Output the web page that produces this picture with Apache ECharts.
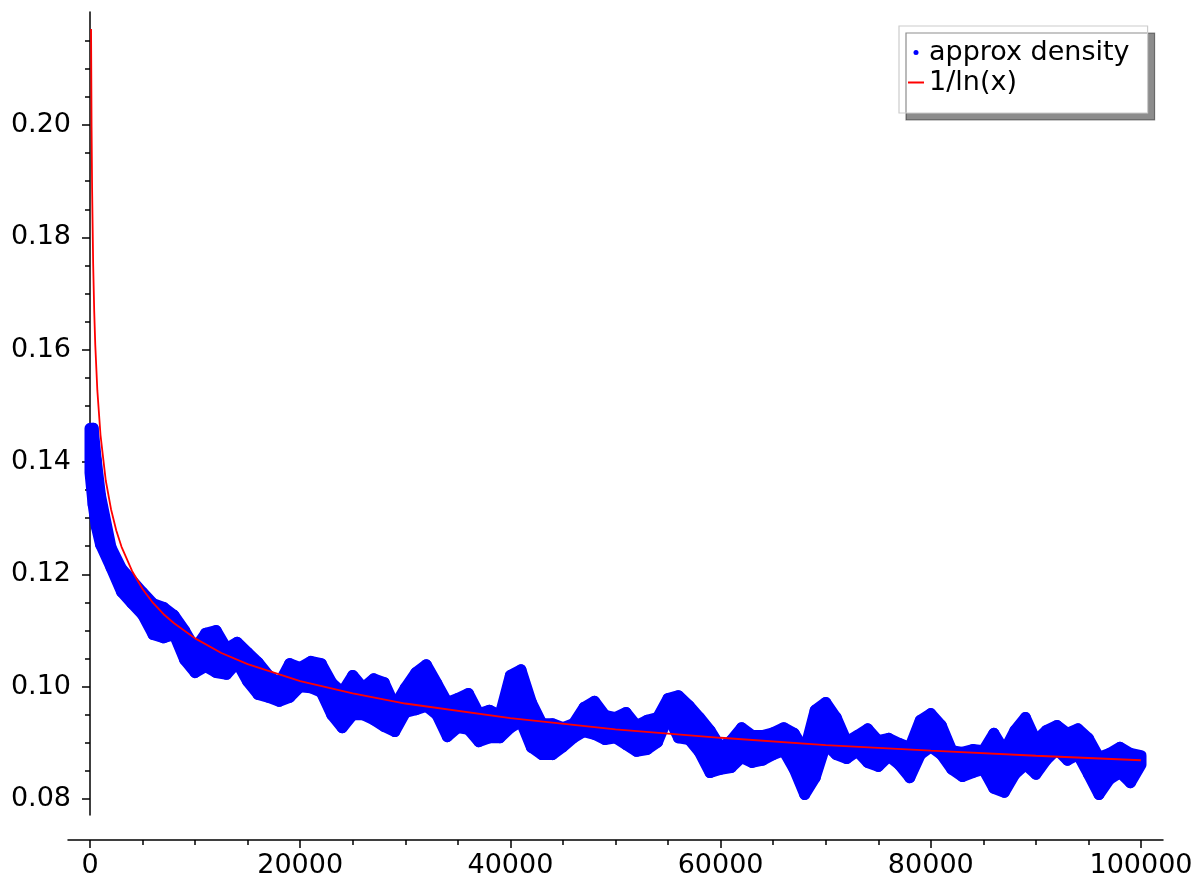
<!DOCTYPE html>
<html>
<head>
<meta charset="utf-8">
<script src="https://cdn.jsdelivr.net/npm/echarts@6/dist/echarts.min.js"></script>
<style>
  html, body { margin: 0; padding: 0; background: #fff; }
  #chart { width: 1194px; height: 883px; }
</style>
</head>
<body>
<div id="chart"></div>
<script>
// ---- data ----
const densityX = [0,300,600,1000,2000,3000,4000,5000,6000,7000,8000,9000,10000,
  11000,12000,13000,14000,15000,16000,17000,18000,19000,20000,
  21000,22000,23000,24000,25000,26000,27000,28000,29000,30000,
  31000,32000,33000,34000,35000,36000,37000,38000,39000,40000,
  41000,42000,43000,44000,45000,46000,47000,48000,49000,50000,
  51000,52000,53000,54000,55000,56000,57000,58000,59000,60000,
  61000,62000,63000,64000,65000,66000,67000,68000,69000,70000,
  71000,72000,73000,74000,75000,76000,77000,78000,79000,80000,
  81000,82000,83000,84000,85000,86000,87000,88000,89000,90000,
  91000,92000,93000,94000,95000,96000,97000,98000,99000,100000];
// upper edge of the "approx density" band
const densityHigh = [0.1460,0.1460,0.1403,0.1340,
  0.1248,0.1210,0.1189,0.1168,0.1148,0.1141,0.1127,0.1100,0.1068,
  0.1095,0.1100,0.1068,0.1079,0.1061,0.1043,0.1020,0.1006,0.1041,0.1034,
  0.1045,0.1041,0.1007,0.0990,0.1020,0.0998,0.1014,0.1007,0.0966,0.0998,
  0.1025,0.1039,0.1006,0.0972,0.0979,0.0988,0.0952,0.0958,0.0949,0.1020,
  0.1030,0.0972,0.0934,0.0934,0.0927,0.0934,0.0963,0.0974,0.0949,0.0945,
  0.0954,0.0931,0.0940,0.0945,0.0979,0.0984,0.0966,0.0945,0.0922,0.0892,
  0.0904,0.0927,0.0913,0.0913,0.0918,0.0927,0.0917,0.0886,0.0958,0.0972,
  0.0945,0.0902,0.0913,0.0925,0.0904,0.0908,0.0899,0.0892,0.0940,0.0952,
  0.0931,0.0886,0.0883,0.0888,0.0886,0.0917,0.0886,0.0922,0.0945,0.0904,
  0.0922,0.0931,0.0917,0.0925,0.0908,0.0874,0.0881,0.0892,0.0881,0.0877];
// lower edge of the "approx density" band
const densityLow = [0.1381,0.1324,0.1285,0.1253,
  0.1212,0.1169,0.1148,0.1128,0.1093,0.1087,0.1093,0.1048,0.1025,
  0.1036,0.1025,0.1022,0.1043,0.1009,0.0986,0.0981,0.0974,0.0981,0.1000,
  0.0998,0.0990,0.0950,0.0927,0.0950,0.0950,0.0941,0.0929,0.0920,0.0954,
  0.0959,0.0965,0.0950,0.0911,0.0927,0.0924,0.0902,0.0909,0.0909,0.0927,
  0.0938,0.0892,0.0879,0.0879,0.0893,0.0909,0.0920,0.0915,0.0906,0.0909,
  0.0897,0.0885,0.0888,0.0901,0.0947,0.0909,0.0906,0.0883,0.0847,0.0853,
  0.0856,0.0874,0.0865,0.0869,0.0879,0.0886,0.0853,0.0808,0.0838,0.0897,
  0.0879,0.0872,0.0885,0.0865,0.0858,0.0876,0.0861,0.0838,0.0879,0.0893,
  0.0879,0.0853,0.0840,0.0847,0.0853,0.0819,0.0812,0.0844,0.0861,0.0844,
  0.0870,0.0888,0.0869,0.0879,0.0844,0.0808,0.0835,0.0847,0.0829,0.0861];

// 1/ln(x) curve points
const curveX = [100,150,200,300,400,500,700,1000,1500,2000,2500,3000,4000,5000,6000,7000,8000,
  10000,12500,15000,20000,25000,30000,40000,50000,60000,70000,80000,90000,100000];
const curveY = [0.2171,0.1996,0.1887,0.1753,0.1669,0.1609,0.1527,0.1448,0.1367,0.1316,0.1278,0.1249,
  0.1206,0.1174,0.1149,0.1129,0.1113,0.1086,0.1060,0.1040,0.1010,0.0988,0.0970,0.0944,0.0924,
  0.0909,0.0896,0.0886,0.0877,0.0869];

// tick labels
const xTickLabels = [0, 20000, 40000, 60000, 80000, 100000];
const yMajorTicks = [0.08, 0.10, 0.12, 0.14, 0.16, 0.18, 0.20];
const yMinorTicks = [0.085,0.09,0.095,0.105,0.11,0.115,0.125,0.13,0.135,0.145,0.15,0.155,
  0.165,0.17,0.175,0.185,0.19,0.195,0.205,0.21,0.215];

const seriesNames = ['approx density', '1/ln(x)'];

// ---- build chart ----
const bandSegments = [];
for (let i = 0; i < densityX.length - 1; i++) {
  bandSegments.push([densityX[i], densityHigh[i], densityLow[i],
                     densityX[i + 1], densityHigh[i + 1], densityLow[i + 1]]);
}
const curveData = curveX.map((x, i) => [x, curveY[i]]);

const FONT = 'DejaVu Sans';
const FS = 27;
const AXIS_COLOR = '#000';

const chart = echarts.init(document.getElementById('chart'), null, { renderer: 'canvas' });
chart.setOption({
  animation: false,
  backgroundColor: '#fff',
  textStyle: { fontFamily: FONT },
  grid: [
    { left: 90, right: 53, top: 12, bottom: 68, outerBoundsMode: 'none', containLabel: false },
    { left: 68, right: 31, top: 12, bottom: 68, outerBoundsMode: 'none', containLabel: false }
  ],
  xAxis: [
    {
      type: 'value', gridIndex: 0, min: 0, max: 100000, interval: 20000,
      position: 'bottom', offset: 25,
      axisLine: { show: false, onZero: false },
      axisTick: { show: true, length: 8, lineStyle: { color: AXIS_COLOR, width: 1.5 } },
      minorTick: { show: true, splitNumber: 4, length: 5, lineStyle: { color: AXIS_COLOR, width: 1.5 } },
      splitLine: { show: false },
      minorSplitLine: { show: false },
      axisLabel: {
        show: true, margin: 12, color: '#000', fontFamily: FONT, fontSize: FS,
        showMinLabel: true, showMaxLabel: true,
        formatter: v => (xTickLabels.indexOf(v) >= 0 ? String(v) : '')
      }
    },
    {
      type: 'value', gridIndex: 1, min: 0, max: 1,
      position: 'bottom', offset: 25,
      axisLine: { show: true, onZero: false, lineStyle: { color: AXIS_COLOR, width: 1.5 } },
      axisTick: { show: false }, axisLabel: { show: false }, splitLine: { show: false }
    }
  ],
  yAxis: [
    {
      type: 'value', gridIndex: 0, min: 0.07715, max: 0.22012, position: 'left',
      axisLine: { show: true, onZero: false, lineStyle: { color: AXIS_COLOR, width: 1.5 } },
      axisTick: { show: true, length: 8, customValues: yMajorTicks, lineStyle: { color: AXIS_COLOR, width: 1.5 } },
      axisLabel: {
        show: true, margin: 19, color: '#000', fontFamily: FONT, fontSize: FS,
        customValues: yMajorTicks,
        formatter: v => Number(v).toFixed(2)
      },
      splitLine: { show: false }
    },
    {
      type: 'value', gridIndex: 0, min: 0.07715, max: 0.22012, position: 'left',
      axisLine: { show: false, onZero: false },
      axisTick: { show: true, length: 5, customValues: yMinorTicks, lineStyle: { color: AXIS_COLOR, width: 1.5 } },
      axisLabel: { show: false },
      splitLine: { show: false }
    },
    {
      type: 'value', gridIndex: 1, min: 0, max: 1, show: false
    }
  ],
  legend: {
    orient: 'vertical',
    left: 899, top: 26,
    padding: [13, 18, 17, 9],
    itemWidth: 16, itemHeight: 5, itemGap: 3,
    backgroundColor: '#fff',
    borderColor: '#cccccc', borderWidth: 1.2, borderRadius: 0,
    shadowColor: 'rgba(0,0,0,0.45)', shadowBlur: 0, shadowOffsetX: 7, shadowOffsetY: 7,
    textStyle: { color: '#000', fontFamily: FONT, fontSize: FS },
    data: [
      { name: seriesNames[0], icon: 'circle' },
      { name: seriesNames[1], icon: 'path://M0 0H16V2H0Z' }
    ]
  },
  series: [
    {
      name: seriesNames[0],
      type: 'custom',
      xAxisIndex: 0, yAxisIndex: 0,
      itemStyle: { color: '#0000ff' },
      encode: { x: [0, 3], y: [1, 2, 4, 5] },
      data: bandSegments,
      renderItem: function (params, api) {
        const p1 = api.coord([api.value(0), api.value(1)]);
        const p2 = api.coord([api.value(3), api.value(4)]);
        const p3 = api.coord([api.value(3), api.value(5)]);
        const p4 = api.coord([api.value(0), api.value(2)]);
        return {
          type: 'polygon',
          shape: { points: [p1, p2, p3, p4] },
          style: { fill: '#0000ff', stroke: '#0000ff', lineWidth: 11, lineJoin: 'round' }
        };
      },
      z: 2
    },
    {
      name: seriesNames[1],
      type: 'line',
      xAxisIndex: 0, yAxisIndex: 0,
      data: curveData,
      symbol: 'none',
      smooth: false,
      lineStyle: { color: '#ff0000', width: 1.8 },
      itemStyle: { color: '#ff0000' },
      z: 3
    }
  ]
});
</script>
</body>
</html>
